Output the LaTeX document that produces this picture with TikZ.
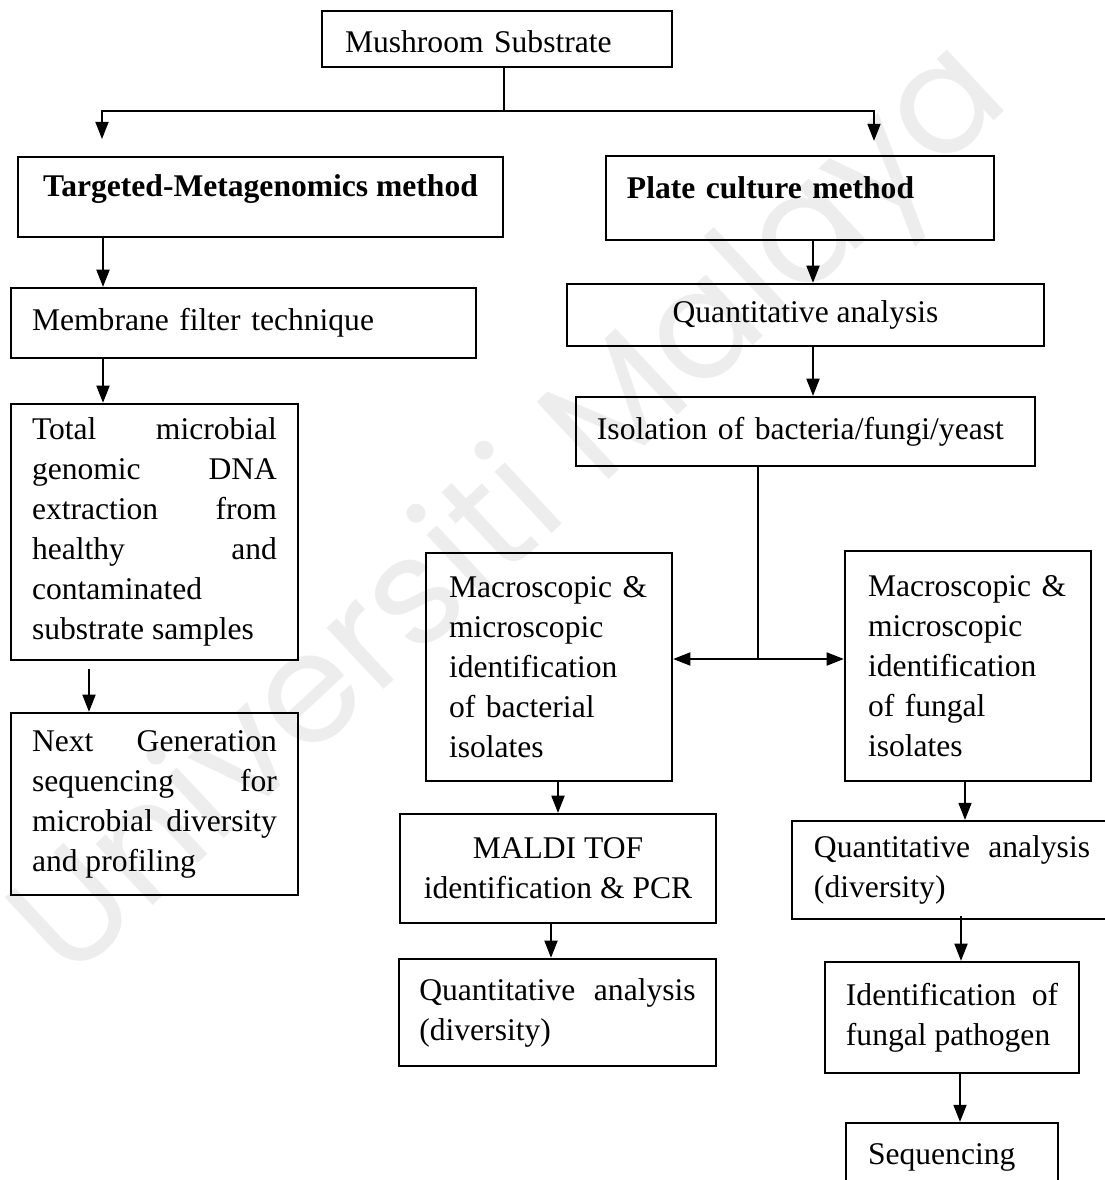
\documentclass[tikz,border=0pt]{standalone}
\usepackage{fontspec}
\setmainfont{Liberation Serif}
\newfontfamily\wmfont{Poppins}
\usetikzlibrary{arrows.meta}
\setlength{\parindent}{0pt}
\hyphenpenalty=10000
\newcommand{\boxfont}{\fontsize{12pt}{15.2pt}\selectfont}

\begin{document}
\begin{tikzpicture}[>={Triangle[length=6.5pt,width=5pt]},x=0.38pt,y=-0.38pt,
  box/.style={draw,line width=0.9pt,inner sep=0pt,font=\boxfont},
  link/.style={line width=0.5pt}]
  \useasboundingbox (0,0) rectangle (1104,1180);
  \node[rotate=43,text=black!7,font=\wmfont\fontsize{58pt}{70pt}\selectfont] (wm) at (515,515) {Universiti Malaya};

  \node[box,minimum width=133pt,minimum height=21.3pt,text width=115.5pt,text height=10pt,text depth=0pt,align=left] (sub) at (497,39) {Mushroom Substrate};
  \node[box,minimum width=184.3pt,minimum height=30.4pt,text height=8pt,text depth=8pt,font=\boxfont\bfseries] (tm) at (260.5,197) {Targeted-Metagenomics method};
  \node[box,minimum width=147.4pt,minimum height=31.9pt,text width=131.5pt,text height=8pt,text depth=8pt,align=left,font=\boxfont\bfseries] (pc) at (800,198) {Plate culture method};
  \node[box,minimum width=176.7pt,minimum height=26.6pt,text width=160.7pt,align=left] (mf) at (243.5,323) {Membrane filter technique};
  \node[box,minimum width=181.3pt,minimum height=23.6pt] (qa) at (805.5,315) {Quantitative analysis};
  \node[box,minimum width=174.4pt,minimum height=26.2pt,text width=158.5pt,align=left] (iso) at (805.5,431.5) {Isolation of bacteria/fungi/yeast};
  \node[box,minimum width=109.1pt,minimum height=97.3pt,text width=93.1pt,align=justify] (dna) at (154.5,532) {Total microbial\linebreak genomic DNA\linebreak extraction from\linebreak healthy and\linebreak contaminated\linebreak substrate samples};
  \node[box,minimum width=109.1pt,minimum height=69.2pt,text width=93.1pt,align=justify] (ngs) at (154.5,804) {Next Generation\linebreak sequencing for\linebreak microbial diversity\linebreak and profiling};
  \node[box,minimum width=93.5pt,minimum height=86.6pt,text width=76pt,align=left] (bac) at (549,667) {Macroscopic \&\\microscopic\\identification\\of bacterial\\isolates};
  \node[box,minimum width=93.5pt,minimum height=87.4pt,text width=76pt,align=left] (fun) at (968,666) {Macroscopic \&\\microscopic\\identification\\of fungal\\isolates};
  \node[box,minimum width=120.1pt,minimum height=41.4pt,align=center] (maldi) at (558,868.5) {MALDI TOF\\identification \& PCR};
  \node[box,minimum width=120.5pt,minimum height=40.7pt,text width=105pt,align=justify] (qdb) at (557.5,1012.5) {Quantitative analysis\linebreak (diversity)};
  \node[box,minimum width=121.6pt,minimum height=37.2pt,text width=104.9pt,align=justify] (qdf) at (952,870) {Quantitative analysis\linebreak (diversity)};
  \node[box,minimum width=96.5pt,minimum height=42.2pt,text width=80.6pt,align=justify] (idf) at (952,1017.5) {Identification of\linebreak fungal pathogen};
  \node[box,minimum width=80.6pt,minimum height=25.8pt,text width=63.8pt,align=left] (seq) at (952,1157) {Sequencing};

  \coordinate (split) at (504,111);
  \coordinate (branch) at (758,659);
  \draw[link] (split |- sub.south) -- (split);
  \draw[link,->,shorten >=6.4pt] (split) -| (102,0 |- tm.north);
  \draw[link,->,shorten >=5.3pt] (split) -| (874,0 |- pc.north);
  \foreach \x/\a/\b in {103/tm/mf,813/pc/qa,103/mf/dna,813/qa/iso,558/bac/maldi,551/maldi/qdb,965/fun/qdf,960/idf/seq} {
    \draw[link,->] (\x,0 |- \a.south) -- (\x,0 |- \b.north);
  }
  \draw[link,->,shorten <=3pt] (89,0 |- dna.south) -- (89,0 |- ngs.north);
  \draw[link,->,shorten <=-1.5pt] (961,0 |- qdf.south) -- (961,0 |- idf.north);
  \draw[link] (branch |- iso.south) -- (branch);
  \draw[link,->] (branch) -- (branch -| bac.east);
  \draw[link,->] (branch) -- (branch -| fun.west);
\end{tikzpicture}
\end{document}
